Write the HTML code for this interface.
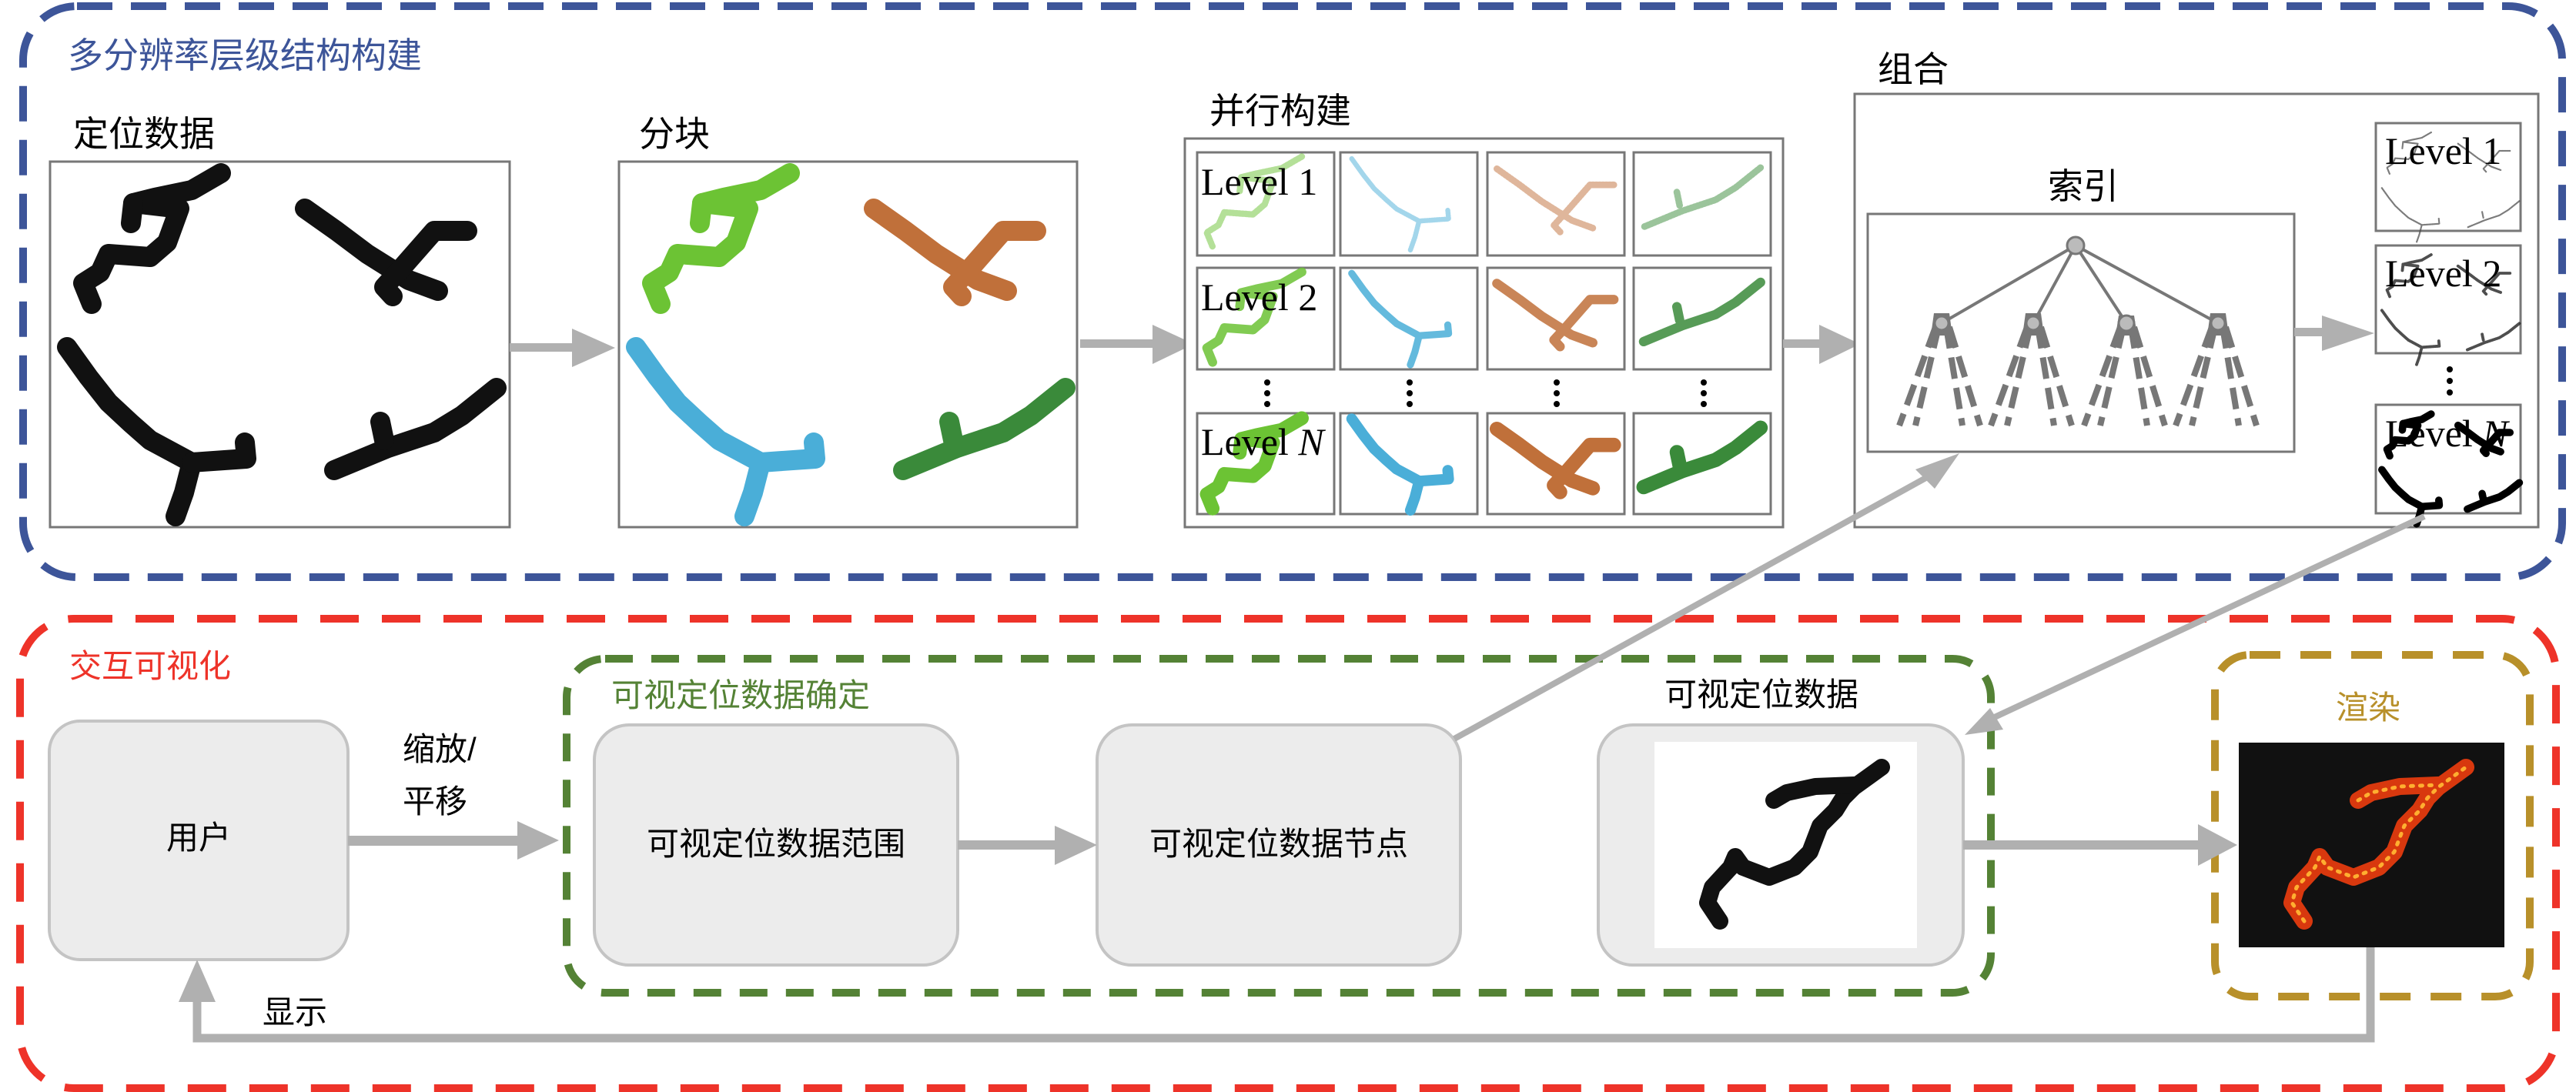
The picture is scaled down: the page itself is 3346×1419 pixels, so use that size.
<!DOCTYPE html>
<html><head><meta charset="utf-8"><style>
html,body{margin:0;padding:0;background:#fff;}
svg{display:block;}
.cn{font-family:"Liberation Sans","Noto Sans CJK SC",sans-serif;}
.lv{font-family:"Liberation Serif",serif;font-size:50px;fill:#000;}
</style></head><body>
<svg width="3346" height="1419" viewBox="0 0 3346 1419" xmlns="http://www.w3.org/2000/svg">
<defs>
 <g id="sTL" fill="none" stroke-linecap="round" stroke-linejoin="round">
  <polyline points="287,225 249,247 201,257 173,264 233,271 217,315 195,334 141,330 130,354 108,368 119,395"/>
  <polyline points="173,264 170,290"/>
 </g>
 <g id="sTR" fill="none" stroke-linecap="round" stroke-linejoin="round">
  <polyline points="396,271 437,300 477,330 531,364 569,378"/>
  <polyline points="607,300 564,300 521,349 499,373 510,385"/>
 </g>
 <g id="sBL" fill="none" stroke-linecap="round" stroke-linejoin="round">
  <polyline points="87,451 115,490 141,523 170,550 195,572 249,601 239,640 228,671"/>
  <polyline points="249,601 320,596 318,575"/>
 </g>
 <g id="sBR" fill="none" stroke-linecap="round" stroke-linejoin="round">
  <polyline points="645,504 600,540 564,562 504,582 434,611"/>
  <polyline points="494,548 499,572"/>
 </g>
 <g id="allS">
  <use href="#sTL"/><use href="#sTR"/><use href="#sBL"/><use href="#sBR"/>
 </g>
 <g id="dataS" fill="none" stroke-linecap="round" stroke-linejoin="round">
  <polyline points="2993,1197 2977,1173 2983,1153 3007,1127 3013,1113 3023,1127 3057,1140 3090,1127 3110,1107 3123,1073 3143,1053 3153,1037 3167,1023 3203,997"/>
  <polyline points="3063,1040 3080,1030 3117,1022 3167,1020"/>
 </g>
</defs>

<rect x="30" y="8" width="3298" height="742" rx="70" fill="none" stroke="#3d5599" stroke-width="10" stroke-dasharray="46 24"/>
<text x="88" y="88" class="cn" font-size="46" fill="#3d5599">多分辨率层级结构构建</text>

<text x="95" y="190" class="cn" font-size="46" fill="#000">定位数据</text>
<rect x="65" y="210" width="597" height="475" fill="#fff" stroke="#777" stroke-width="3"/>
<g stroke="#111" stroke-width="26"><use href="#allS"/></g>

<rect x="662" y="446" width="90" height="11" fill="#b0b0b0"/>
<polygon points="743,427 799,452 743,477" fill="#b0b0b0"/>

<text x="830" y="190" class="cn" font-size="46" fill="#000">分块</text>
<rect x="804" y="210" width="595" height="475" fill="#fff" stroke="#777" stroke-width="3"/>
<g transform="translate(739,0)" stroke-width="26">
 <use href="#sTL" stroke="#6cc334"/><use href="#sTR" stroke="#c0703a"/>
 <use href="#sBL" stroke="#4aaed8"/><use href="#sBR" stroke="#3a8a3a"/>
</g>

<rect x="1403" y="441" width="100" height="11" fill="#b0b0b0"/>
<polygon points="1497,422 1551,447 1497,473" fill="#b0b0b0"/>

<text x="1571" y="160" class="cn" font-size="46" fill="#000">并行构建</text>
<rect x="1539" y="180" width="777" height="505" fill="#fff" stroke="#777" stroke-width="3"/>
<g stroke="#777" stroke-width="3" fill="#fff">
 <rect x="1555" y="198" width="178" height="134"/><rect x="1741" y="198" width="178" height="134"/><rect x="1932" y="198" width="178" height="134"/><rect x="2122" y="198" width="178" height="134"/>
 <rect x="1555" y="348" width="178" height="132"/><rect x="1741" y="348" width="178" height="132"/><rect x="1932" y="348" width="178" height="132"/><rect x="2122" y="348" width="178" height="132"/>
 <rect x="1555" y="537" width="178" height="131"/><rect x="1741" y="537" width="178" height="131"/><rect x="1932" y="537" width="178" height="131"/><rect x="2122" y="537" width="178" height="131"/>
</g>
<g stroke-width="12" opacity="0.5" stroke-dasharray="3 3">
 <use href="#sTL" stroke="#6cc334" transform="translate(1562,200) scale(0.69) translate(-100,-220)"/>
 <use href="#sBL" stroke="#4aaed8" transform="translate(1752,203) scale(0.54) translate(-80,-445)"/>
 <use href="#sTR" stroke="#c0703a" transform="translate(1940,215) scale(0.72) translate(-390,-265)"/>
 <use href="#sBR" stroke="#3a8a3a" transform="translate(2132,215) scale(0.72) translate(-430,-500)"/>
</g>
<g stroke-width="17" opacity="0.85">
 <use href="#sTL" stroke="#6cc334" transform="translate(1562,350) scale(0.69) translate(-100,-220)"/>
 <use href="#sBL" stroke="#4aaed8" transform="translate(1752,352) scale(0.54) translate(-80,-445)"/>
 <use href="#sTR" stroke="#c0703a" transform="translate(1940,364) scale(0.72) translate(-390,-265)"/>
 <use href="#sBR" stroke="#3a8a3a" transform="translate(2132,364) scale(0.72) translate(-430,-500)"/>
</g>
<g stroke-width="26">
 <use href="#sTL" stroke="#6cc334" transform="translate(1562,540) scale(0.69) translate(-100,-220)"/>
 <use href="#sBL" stroke="#4aaed8" transform="translate(1752,541) scale(0.54) translate(-80,-445)"/>
 <use href="#sTR" stroke="#c0703a" transform="translate(1940,553) scale(0.72) translate(-390,-265)"/>
 <use href="#sBR" stroke="#3a8a3a" transform="translate(2132,553) scale(0.72) translate(-430,-500)"/>
</g>
<text x="1560" y="253" class="lv">Level 1</text>
<text x="1560" y="403" class="lv">Level 2</text>
<text x="1560" y="591" class="lv">Level <tspan font-style="italic">N</tspan></text>
<g fill="#000">
 <circle cx="1646" cy="497" r="4"/><circle cx="1646" cy="511" r="4"/><circle cx="1646" cy="525" r="4"/>
 <circle cx="1831" cy="497" r="4"/><circle cx="1831" cy="511" r="4"/><circle cx="1831" cy="525" r="4"/>
 <circle cx="2022" cy="497" r="4"/><circle cx="2022" cy="511" r="4"/><circle cx="2022" cy="525" r="4"/>
 <circle cx="2213" cy="497" r="4"/><circle cx="2213" cy="511" r="4"/><circle cx="2213" cy="525" r="4"/>
</g>

<rect x="2316" y="441" width="55" height="11" fill="#b0b0b0"/>
<polygon points="2363,422 2416,447 2363,473" fill="#b0b0b0"/>

<text x="2439" y="106" class="cn" font-size="46" fill="#000">组合</text>
<rect x="2409" y="122" width="888" height="563" fill="#fff" stroke="#777" stroke-width="3"/>
<text x="2660" y="258" class="cn" font-size="46" fill="#000">索引</text>
<rect x="2426" y="278" width="554" height="309" fill="#fff" stroke="#777" stroke-width="3"/>
<g stroke="#777" stroke-width="4">
 <line x1="2696" y1="319" x2="2522" y2="420"/><line x1="2696" y1="319" x2="2641" y2="420"/>
 <line x1="2696" y1="319" x2="2762" y2="420"/><line x1="2696" y1="319" x2="2881" y2="420"/>
</g>
<g stroke="#777" stroke-width="8" stroke-dasharray="28 12" fill="none">
 <g id="fan">
  <line x1="2514" y1="425" x2="2467" y2="553"/><line x1="2518" y1="425" x2="2488" y2="553"/>
  <line x1="2528" y1="425" x2="2549" y2="553"/><line x1="2532" y1="425" x2="2572" y2="553"/>
 </g>
 <use href="#fan" transform="translate(119,0)"/>
 <use href="#fan" transform="translate(240,0)"/>
 <use href="#fan" transform="translate(359,0)"/>
</g>
<g fill="#777">
 <path d="M2508,436 L2512,407 L2532,407 L2536,436 Z"/>
 <path d="M2627,436 L2631,407 L2651,407 L2655,436 Z"/>
 <path d="M2748,436 L2752,410 L2772,410 L2776,436 Z"/>
 <path d="M2867,436 L2871,407 L2891,407 L2895,436 Z"/>
</g>
<g fill="#bbb" stroke="#777" stroke-width="3">
 <circle cx="2696" cy="319" r="11"/>
 <circle cx="2522" cy="420" r="9"/><circle cx="2641" cy="420" r="9"/><circle cx="2762" cy="420" r="10"/><circle cx="2881" cy="420" r="9"/>
</g>

<rect x="2980" y="426" width="45" height="11" fill="#b0b0b0"/>
<polygon points="3016,410 3084,433 3016,456" fill="#b0b0b0"/>

<g stroke="#777" stroke-width="3" fill="#fff">
 <rect x="3086" y="160" width="188" height="140"/>
 <rect x="3086" y="319" width="188" height="140"/>
 <rect x="3086" y="526" width="188" height="141"/>
</g>
<g stroke="#444" stroke-width="7" stroke-dasharray="2 4" opacity="0.7">
 <use href="#allS" transform="translate(3066,100) scale(0.32)"/>
</g>
<g stroke="#222" stroke-width="12" stroke-dasharray="4 3" opacity="0.8">
 <use href="#allS" transform="translate(3066,259) scale(0.32)"/>
</g>
<g stroke="#000" stroke-width="30">
 <use href="#allS" transform="translate(3066,466) scale(0.32)"/>
</g>
<text x="3098" y="213" class="lv">Level 1</text>
<text x="3098" y="372" class="lv">Level 2</text>
<text x="3098" y="580" class="lv">Level <tspan font-style="italic">N</tspan></text>
<g fill="#000"><circle cx="3182" cy="480" r="4"/><circle cx="3182" cy="495" r="4"/><circle cx="3182" cy="510" r="4"/></g>

<rect x="26" y="804" width="3294" height="610" rx="70" fill="none" stroke="#ee3329" stroke-width="10" stroke-dasharray="50 30"/>
<text x="90" y="880" class="cn" font-size="42" fill="#ee3329">交互可视化</text>

<rect x="736" y="856" width="1850" height="434" rx="50" fill="none" stroke="#548235" stroke-width="10" stroke-dasharray="36 24"/>
<text x="794" y="918" class="cn" font-size="42" fill="#548235">可视定位数据确定</text>

<rect x="2877" y="851" width="409" height="444" rx="45" fill="none" stroke="#b8902a" stroke-width="10" stroke-dasharray="40 26"/>
<text x="3034" y="934" class="cn" font-size="42" fill="#b8902a">渲染</text>

<g fill="#ececec" stroke="#c4c4c4" stroke-width="4">
 <rect x="64" y="937" width="388" height="310" rx="40"/>
 <rect x="772" y="942" width="472" height="312" rx="45"/>
 <rect x="1425" y="942" width="472" height="312" rx="45"/>
 <rect x="2076" y="942" width="474" height="312" rx="45"/>
</g>
<text x="258" y="1103" class="cn" font-size="42" fill="#000" text-anchor="middle">用户</text>
<text x="1008" y="1111" class="cn" font-size="42" fill="#000" text-anchor="middle">可视定位数据范围</text>
<text x="1661" y="1111" class="cn" font-size="42" fill="#000" text-anchor="middle">可视定位数据节点</text>
<text x="2162" y="917" class="cn" font-size="42" fill="#000">可视定位数据</text>
<text x="523" y="988" class="cn" font-size="42" fill="#000">缩放/</text>
<text x="523" y="1056" class="cn" font-size="42" fill="#000">平移</text>
<text x="341" y="1330" class="cn" font-size="42" fill="#000">显示</text>

<rect x="2149" y="964" width="341" height="268" fill="#fff"/>
<g stroke="#111" stroke-width="22" transform="translate(-759,0)"><use href="#dataS"/></g>

<rect x="2908" y="965" width="345" height="266" fill="#111"/>
<g stroke="#d8380e" stroke-width="22"><use href="#dataS"/></g>
<g stroke="#ffae30" stroke-width="5" stroke-dasharray="3 9"><use href="#dataS"/></g>

<rect x="452" y="1086" width="225" height="13" fill="#b0b0b0"/>
<polygon points="672,1067 726,1092 672,1117" fill="#b0b0b0"/>
<rect x="1244" y="1092" width="130" height="12" fill="#b0b0b0"/>
<polygon points="1370,1073 1425,1098 1370,1124" fill="#b0b0b0"/>
<rect x="2550" y="1092" width="310" height="12" fill="#b0b0b0"/>
<polygon points="2855,1071 2906,1098 2855,1125" fill="#b0b0b0"/>

<polyline points="3079,1231 3079,1349 256,1349 256,1295" fill="none" stroke="#b0b0b0" stroke-width="11"/>
<polygon points="232,1302 256,1247 280,1302" fill="#b0b0b0"/>

<line x1="1889" y1="960" x2="2525" y2="608" stroke="#b0b0b0" stroke-width="8"/>
<polygon points="2545,589 2488,610 2513,635" fill="#b0b0b0"/>
<line x1="3149" y1="671" x2="2580" y2="937" stroke="#b0b0b0" stroke-width="8"/>
<polygon points="2552,955 2585,920 2602,948" fill="#b0b0b0"/>
</svg>
</body></html>
